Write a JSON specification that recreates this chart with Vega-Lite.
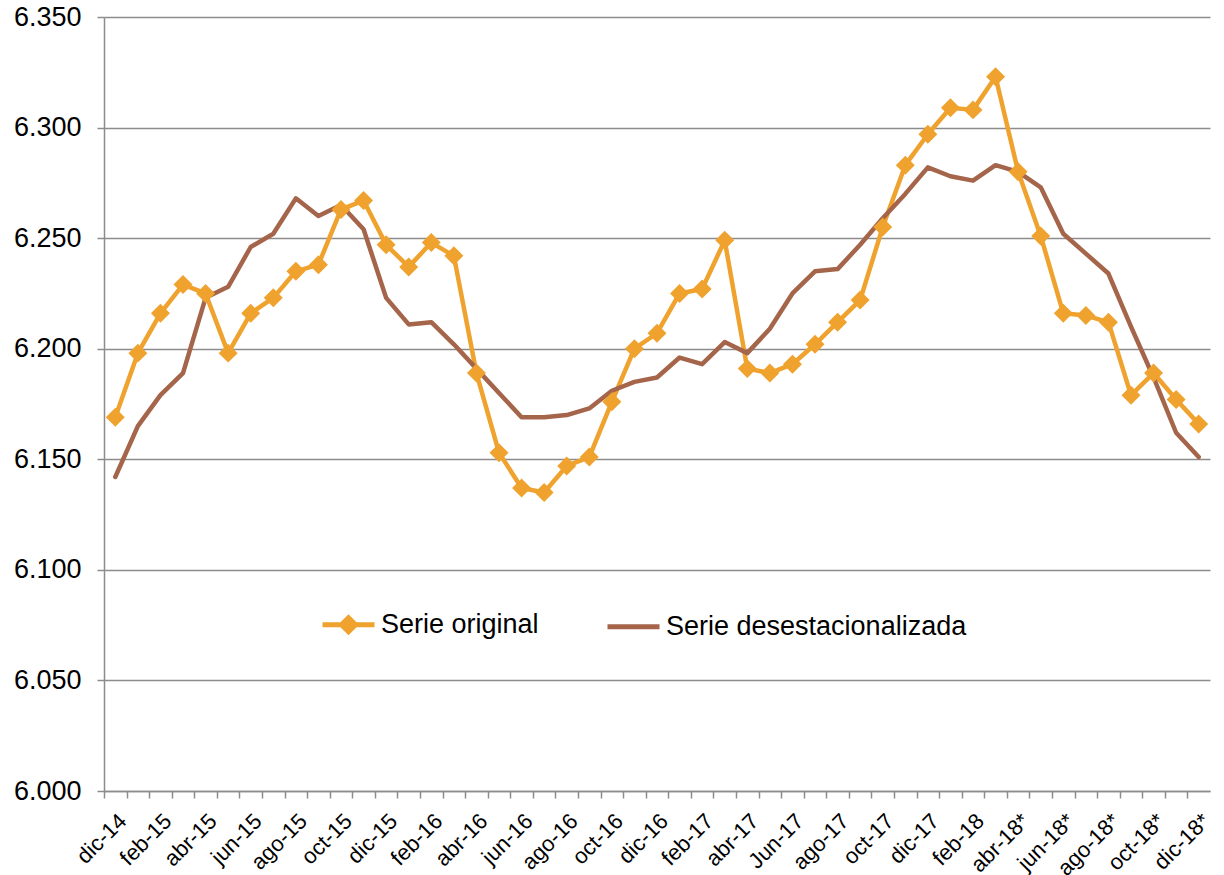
{
  "$schema": "https://vega.github.io/schema/vega-lite/v6.json",
  "width": 1106,
  "height": 774,
  "autosize": {"type": "none"},
  "padding": {"left": 104, "top": 17, "right": 14, "bottom": 84},
  "background": "white",
  "config": {"font": "Liberation Sans", "view": {"stroke": null}},
  "data": {"values": [
    {"n": 0, "mes": "dic-14", "Serie original": 6.169, "Serie desestacionalizada": 6.142},
    {"n": 1, "mes": "ene-15", "Serie original": 6.198, "Serie desestacionalizada": 6.165},
    {"n": 2, "mes": "feb-15", "Serie original": 6.216, "Serie desestacionalizada": 6.179},
    {"n": 3, "mes": "mar-15", "Serie original": 6.229, "Serie desestacionalizada": 6.189},
    {"n": 4, "mes": "abr-15", "Serie original": 6.225, "Serie desestacionalizada": 6.223},
    {"n": 5, "mes": "may-15", "Serie original": 6.198, "Serie desestacionalizada": 6.228},
    {"n": 6, "mes": "jun-15", "Serie original": 6.216, "Serie desestacionalizada": 6.246},
    {"n": 7, "mes": "jul-15", "Serie original": 6.223, "Serie desestacionalizada": 6.252},
    {"n": 8, "mes": "ago-15", "Serie original": 6.235, "Serie desestacionalizada": 6.268},
    {"n": 9, "mes": "sep-15", "Serie original": 6.238, "Serie desestacionalizada": 6.260},
    {"n": 10, "mes": "oct-15", "Serie original": 6.263, "Serie desestacionalizada": 6.265},
    {"n": 11, "mes": "nov-15", "Serie original": 6.267, "Serie desestacionalizada": 6.254},
    {"n": 12, "mes": "dic-15", "Serie original": 6.247, "Serie desestacionalizada": 6.223},
    {"n": 13, "mes": "ene-16", "Serie original": 6.237, "Serie desestacionalizada": 6.211},
    {"n": 14, "mes": "feb-16", "Serie original": 6.248, "Serie desestacionalizada": 6.212},
    {"n": 15, "mes": "mar-16", "Serie original": 6.242, "Serie desestacionalizada": 6.202},
    {"n": 16, "mes": "abr-16", "Serie original": 6.189, "Serie desestacionalizada": 6.191},
    {"n": 17, "mes": "may-16", "Serie original": 6.153, "Serie desestacionalizada": 6.180},
    {"n": 18, "mes": "jun-16", "Serie original": 6.137, "Serie desestacionalizada": 6.169},
    {"n": 19, "mes": "jul-16", "Serie original": 6.135, "Serie desestacionalizada": 6.169},
    {"n": 20, "mes": "ago-16", "Serie original": 6.147, "Serie desestacionalizada": 6.170},
    {"n": 21, "mes": "sep-16", "Serie original": 6.151, "Serie desestacionalizada": 6.173},
    {"n": 22, "mes": "oct-16", "Serie original": 6.176, "Serie desestacionalizada": 6.181},
    {"n": 23, "mes": "nov-16", "Serie original": 6.200, "Serie desestacionalizada": 6.185},
    {"n": 24, "mes": "dic-16", "Serie original": 6.207, "Serie desestacionalizada": 6.187},
    {"n": 25, "mes": "ene-17", "Serie original": 6.225, "Serie desestacionalizada": 6.196},
    {"n": 26, "mes": "feb-17", "Serie original": 6.227, "Serie desestacionalizada": 6.193},
    {"n": 27, "mes": "mar-17", "Serie original": 6.249, "Serie desestacionalizada": 6.203},
    {"n": 28, "mes": "abr-17", "Serie original": 6.191, "Serie desestacionalizada": 6.198},
    {"n": 29, "mes": "may-17", "Serie original": 6.189, "Serie desestacionalizada": 6.209},
    {"n": 30, "mes": "Jun-17", "Serie original": 6.193, "Serie desestacionalizada": 6.225},
    {"n": 31, "mes": "jul-17", "Serie original": 6.202, "Serie desestacionalizada": 6.235},
    {"n": 32, "mes": "ago-17", "Serie original": 6.212, "Serie desestacionalizada": 6.236},
    {"n": 33, "mes": "sep-17", "Serie original": 6.222, "Serie desestacionalizada": 6.247},
    {"n": 34, "mes": "oct-17", "Serie original": 6.255, "Serie desestacionalizada": 6.259},
    {"n": 35, "mes": "nov-17", "Serie original": 6.283, "Serie desestacionalizada": 6.270},
    {"n": 36, "mes": "dic-17", "Serie original": 6.297, "Serie desestacionalizada": 6.282},
    {"n": 37, "mes": "ene-18", "Serie original": 6.309, "Serie desestacionalizada": 6.278},
    {"n": 38, "mes": "feb-18", "Serie original": 6.308, "Serie desestacionalizada": 6.276},
    {"n": 39, "mes": "mar-18", "Serie original": 6.323, "Serie desestacionalizada": 6.283},
    {"n": 40, "mes": "abr-18*", "Serie original": 6.280, "Serie desestacionalizada": 6.280},
    {"n": 41, "mes": "may-18*", "Serie original": 6.251, "Serie desestacionalizada": 6.273},
    {"n": 42, "mes": "jun-18*", "Serie original": 6.216, "Serie desestacionalizada": 6.252},
    {"n": 43, "mes": "jul-18*", "Serie original": 6.215, "Serie desestacionalizada": 6.243},
    {"n": 44, "mes": "ago-18*", "Serie original": 6.212, "Serie desestacionalizada": 6.234},
    {"n": 45, "mes": "sep-18*", "Serie original": 6.179, "Serie desestacionalizada": 6.210},
    {"n": 46, "mes": "oct-18*", "Serie original": 6.189, "Serie desestacionalizada": 6.187},
    {"n": 47, "mes": "nov-18*", "Serie original": 6.177, "Serie desestacionalizada": 6.162},
    {"n": 48, "mes": "dic-18*", "Serie original": 6.166, "Serie desestacionalizada": 6.151}
  ]},
  "transform": [{"fold": ["Serie original", "Serie desestacionalizada"], "as": ["serie", "valor"]}],
  "encoding": {
    "x": {
      "field": "mes", "type": "ordinal", "sort": null,
      "scale": {"type": "point", "padding": 0.5},
      "axis": {
        "title": null, "labelAngle": -45, "labelFontSize": 22, "labelColor": "#000000",
        "labelExpr": "test(/^(dic|feb|abr|jun|ago|oct)/i, datum.value) ? datum.value : ''",
        "labelOverlap": false, "tickOffset": -11.29, "labelOffset": 11.29,
        "tickSize": 7, "tickColor": "#8c8c8c", "tickWidth": 1.5,
        "domainColor": "#8c8c8c", "domainWidth": 1.5, "grid": false, "labelPadding": 12
      }
    },
    "y": {
      "field": "valor", "type": "quantitative",
      "scale": {"domain": [6.0, 6.35], "nice": false, "zero": false},
      "axis": {
        "title": null, "values": [6.0, 6.05, 6.1, 6.15, 6.2, 6.25, 6.3, 6.35], "format": ".3f",
        "labelFontSize": 27, "labelColor": "#000000", "labelPadding": 16,
        "tickSize": 7, "tickColor": "#8c8c8c", "tickWidth": 1.5,
        "domainColor": "#8c8c8c", "domainWidth": 1.5,
        "grid": true, "gridColor": "#8c8c8c", "gridWidth": 1.5
      }
    },
    "order": {"field": "n", "type": "quantitative"}
  },
  "layer": [
    {
      "transform": [{"filter": "datum.serie == 'Serie original'"}],
      "mark": {"type": "line", "strokeWidth": 4.5, "strokeJoin": "round", "strokeCap": "round"},
      "encoding": {
        "color": {
          "field": "serie", "type": "nominal",
          "scale": {"domain": ["Serie original", "Serie desestacionalizada"], "range": ["#F0A22E", "#A5654A"]},
          "legend": {
            "title": null, "orient": "none", "legendX": 216, "legendY": 579, "direction": "horizontal",
            "labelFontSize": 27, "labelColor": "#000000", "labelLimit": 0, "symbolSize": 2704, "symbolStrokeWidth": 5,
            "labelOffset": 4, "columnPadding": 58, "padding": 0,
            "encode": {"symbols": {"update": {
              "shape": {"signal": "datum.value == 'Serie original' ? 'M-1,0L1,0M0,-0.27L0.27,0L0,0.27L-0.27,0Z' : 'M-1,0L1,0'"},
              "fill": {"signal": "datum.value == 'Serie original' ? '#F0A22E' : 'transparent'"}
            }}}
          }
        }
      }
    },
    {
      "transform": [{"filter": "datum.serie == 'Serie desestacionalizada'"}],
      "mark": {"type": "line", "strokeWidth": 4.5, "strokeJoin": "round", "strokeCap": "round"},
      "encoding": {
        "color": {"field": "serie", "type": "nominal"}
      }
    },
    {
      "transform": [{"filter": "datum.serie == 'Serie original'"}],
      "mark": {"type": "point", "shape": "diamond", "filled": true, "size": 360, "color": "#F0A22E", "opacity": 1}
    }
  ]
}
